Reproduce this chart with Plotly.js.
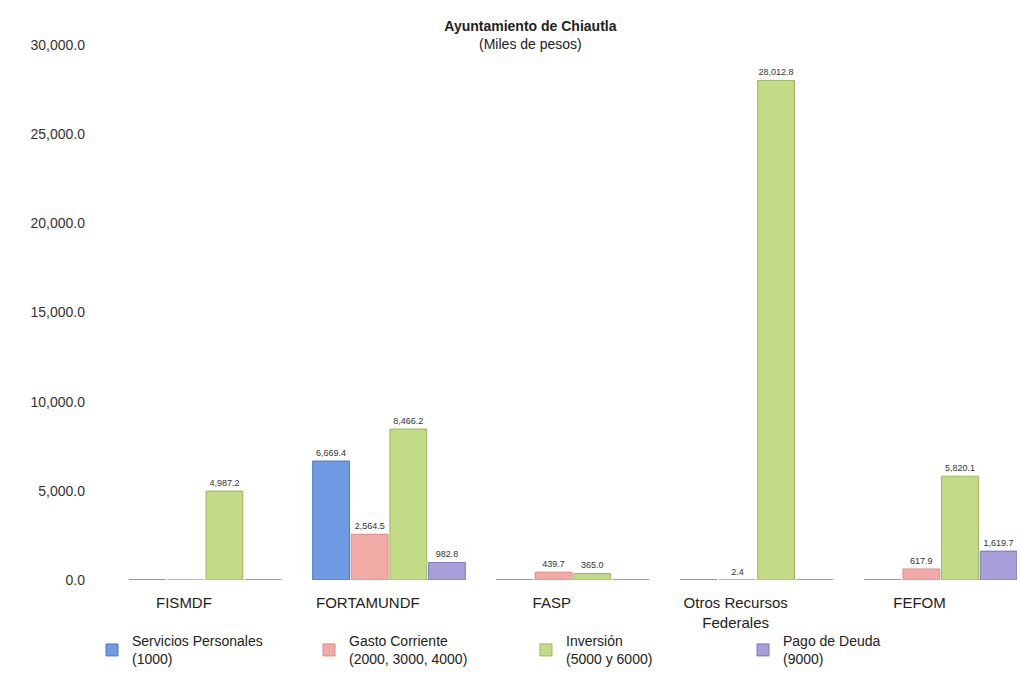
<!DOCTYPE html>
<html>
<head>
<meta charset="utf-8">
<script src="https://cdn.plot.ly/plotly-3.0.1.min.js"></script>
<style>html,body{margin:0;padding:0;background:#fff;}#chart{width:1020px;height:679px;}</style>
</head>
<body>
<div id="chart"></div>
<script>
const categories = ["FISMDF", "FORTAMUNDF", "FASP", "Otros Recursos<br>Federales", "FEFOM"];
const seriesNames = ["Servicios Personales<br>(1000)", "Gasto Corriente<br>(2000, 3000, 4000)", "Inversión<br>(5000 y 6000)", "Pago de Deuda<br>(9000)"];
const serviciosPersonales = [0, 6669.4, 0, 0, 0];
const gastoCorriente = [0, 2564.5, 439.7, 2.4, 617.9];
const inversion = [4987.2, 8466.2, 365.0, 28012.8, 5820.1];
const pagoDeuda = [0, 982.8, 0, 0, 1619.7];

const colors = ["#6e9be3", "#f2aaa6", "#c3db86", "#a69fd9"];
const lineColors = ["#4d78c0", "#d98a86", "#98b85a", "#7e77b8"];
const allSeries = [serviciosPersonales, gastoCorriente, inversion, pagoDeuda];

const fmt = v => v.toLocaleString('en-US', {minimumFractionDigits: 1, maximumFractionDigits: 1});

const traces = allSeries.map((vals, i) => ({
  type: 'bar',
  name: seriesNames[i],
  x: categories,
  y: vals,
  width: 0.2,
  offset: -0.30 + i * 0.21,
  text: vals.map(v => v > 0 ? fmt(v) : ''),
  textposition: 'outside',
  cliponaxis: false,
  textfont: {family: 'Liberation Sans, Arial, sans-serif', size: 9, color: '#333'},
  marker: {color: colors[i], line: {color: lineColors[i], width: 1}},
  hoverinfo: 'x+y+name'
}));

const layout = {
  width: 1020,
  height: 679,
  margin: {l: 92, r: 3, t: 45, b: 99},
  paper_bgcolor: '#fff',
  plot_bgcolor: '#fff',
  font: {family: 'Liberation Sans, Arial, sans-serif', color: '#222'},
  title: {
    text: '<b>Ayuntamiento de Chiautla</b><br><span style="font-size:14px">(Miles de pesos)</span>',
    x: 0.52, xanchor: 'center', y: 0.954, yanchor: 'top',
    font: {size: 14, color: '#222'}
  },
  barmode: 'group',
  xaxis: {
    showgrid: false, showline: false, zeroline: false, ticks: '',
    tickfont: {size: 15, color: '#222'},
    ticklabelstandoff: 12,
    automargin: false
  },
  yaxis: {
    range: [0, 30000],
    tickvals: [0, 5000, 10000, 15000, 20000, 25000, 30000],
    tickformat: ',.1f',
    showgrid: false, showline: false, zeroline: false, ticks: '',
    tickfont: {size: 14, color: '#333'},
    ticklabelstandoff: 6,
    automargin: false
  },
  showlegend: true,
  legend: {
    orientation: 'h',
    x: 0.0, xanchor: 'left',
    y: -0.178, yanchor: 'bottom',
    bgcolor: 'rgba(0,0,0,0)',
    font: {size: 14, color: '#222'},
    itemwidth: 30,
    entrywidth: 172,
    traceorder: 'normal'
  }
};

Plotly.newPlot('chart', traces, layout, {displayModeBar: false, staticPlot: true});
</script>
</body>
</html>
